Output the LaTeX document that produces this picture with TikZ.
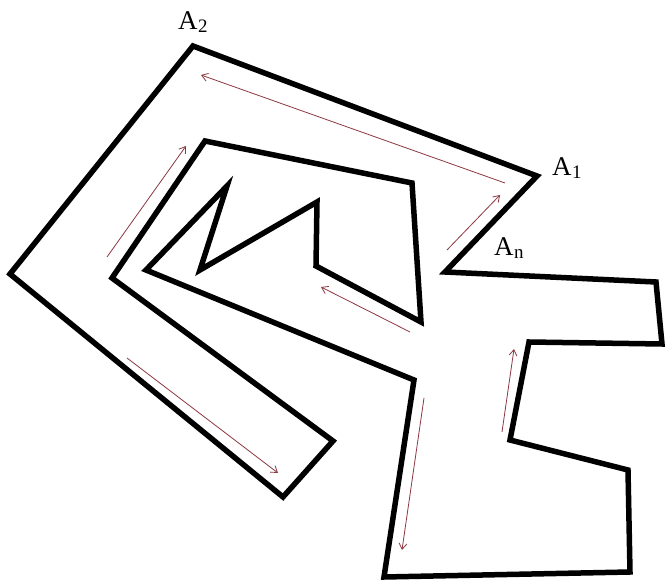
\documentclass[tikz,border=0pt]{standalone}
\usepackage{fontspec}
\setmainfont{Liberation Serif}
\usetikzlibrary{arrows.meta}
\definecolor{arrowred}{RGB}{140,55,65}
\tikzset{
  wall/.style={line width=5.5pt, line join=miter, black},
  walk/.style={arrowred, line width=0.8pt, -{Straight Barb[length=6pt,width=8pt]}},
  vlabel/.style={font=\fontsize{27}{30}\selectfont, inner sep=0pt, anchor=base west}
}
\newcommand{\Asub}[1]{A\kern0.02em\raisebox{-3pt}{\fontsize{19}{21}\selectfont #1}}
\begin{document}
\begin{tikzpicture}[x=1pt,y=-1pt]
\useasboundingbox (0,0) rectangle (665,585);
% polygon vertices
\coordinate (p1) at (537,176);
\coordinate (p2) at (193,46);
\coordinate (p3) at (10,274);
\coordinate (p4) at (283,497);
\coordinate (p5) at (333,441);
\coordinate (p6) at (112,278);
\coordinate (p7) at (205,141);
\coordinate (p8) at (412,183);
\coordinate (p9) at (421,322);
\coordinate (p10) at (316,266);
\coordinate (p11) at (317,202);
\coordinate (p12) at (200,270);
\coordinate (p13) at (227,186);
\coordinate (p14) at (146,270);
\coordinate (p15) at (414,380);
\coordinate (p16) at (384,577);
\coordinate (p17) at (630,572);
\coordinate (p18) at (628,470);
\coordinate (p19) at (510,440);
\coordinate (p20) at (529,342);
\coordinate (p21) at (662,344);
\coordinate (p22) at (656,282);
\coordinate (p23) at (445,272);
\draw[wall] (p1) -- (p2) -- (p3) -- (p4) -- (p5) -- (p6) -- (p7) -- (p8) -- (p9)
  -- (p10) -- (p11) -- (p12) -- (p13) -- (p14) -- (p15) -- (p16) -- (p17) -- (p18)
  -- (p19) -- (p20) -- (p21) -- (p22) -- (p23) -- cycle;
% labels
\node[vlabel] (lA2) at (178,30) {\Asub{2}};
\node[vlabel] (lA1) at (552,176) {\Asub{1}};
\node[vlabel] (lAn) at (494,256) {\Asub{n}};
% walking arrows
\coordinate (a1s) at (505,183); \coordinate (a1e) at (201,75);
\coordinate (a2s) at (447,250); \coordinate (a2e) at (500,195);
\coordinate (a3s) at (107,257); \coordinate (a3e) at (186,146);
\coordinate (a4s) at (410,332); \coordinate (a4e) at (321,287);
\coordinate (a5s) at (127,358); \coordinate (a5e) at (278,473);
\coordinate (a6s) at (424,398); \coordinate (a6e) at (402,550);
\coordinate (a7s) at (502,432); \coordinate (a7e) at (514,349);
\draw[walk] (a1s) -- (a1e);
\draw[walk] (a2s) -- (a2e);
\draw[walk] (a3s) -- (a3e);
\draw[walk] (a4s) -- (a4e);
\draw[walk] (a5s) -- (a5e);
\draw[walk] (a6s) -- (a6e);
\draw[walk] (a7s) -- (a7e);
\end{tikzpicture}
\end{document}
